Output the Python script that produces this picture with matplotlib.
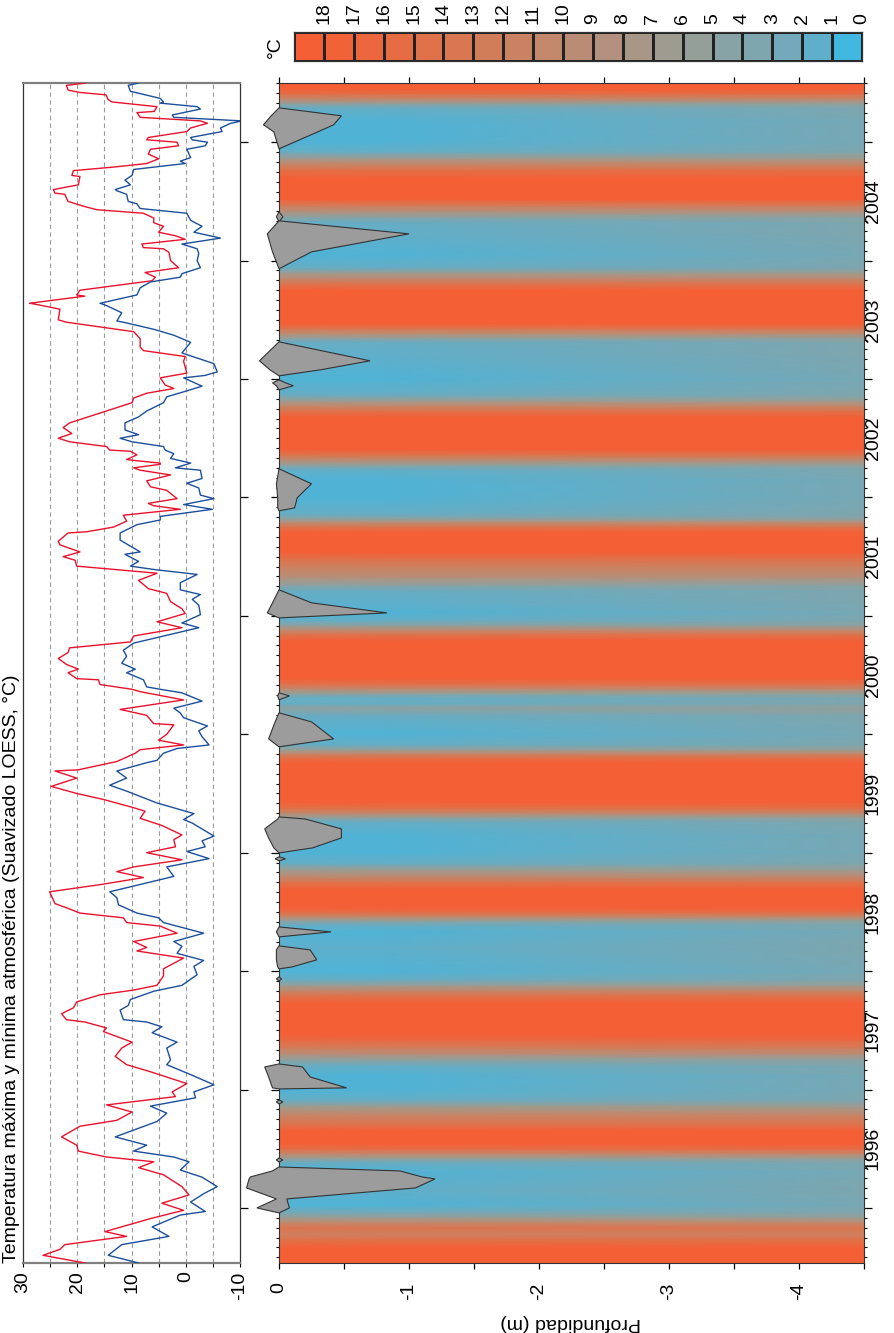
import numpy as np
import matplotlib
matplotlib.use("Agg")
import matplotlib.pyplot as plt
from matplotlib.colors import ListedColormap, BoundaryNorm, LinearSegmentedColormap
import matplotlib.transforms as mtransforms

plt.rcParams['font.family'] = ['Liberation Sans', 'DejaVu Sans']
plt.rcParams['font.size'] = 14
plt.rcParams['axes.unicode_minus'] = False

# ---------------- data ----------------
T_START, T_END = 1995.535, 2005.50
years = list(range(1996, 2006))
year_labels = list(range(1996, 2005))

# Smoothed max temperature (decimal year, degC)
tmax_t = [2005.50, 2005.48, 2005.44, 2005.42, 2005.40, 2005.36, 2005.34, 2005.30, 2005.26, 2005.25,
          2005.21, 2005.18, 2005.16, 2005.12, 2005.09, 2005.04, 2005.02, 2005.00, 2004.97, 2004.94,
          2004.90, 2004.86, 2004.82, 2004.79, 2004.76, 2004.72, 2004.71, 2004.64, 2004.60, 2004.57,
          2004.56, 2004.50, 2004.46, 2004.43, 2004.40, 2004.36, 2004.32, 2004.29, 2004.24, 2004.21,
          2004.18, 2004.14, 2004.11, 2004.10, 2004.07, 2004.00, 2003.94, 2003.90, 2003.86, 2003.83,
          2003.75, 2003.71, 2003.70, 2003.64, 2003.63, 2003.59, 2003.50, 2003.48, 2003.44, 2003.40,
          2003.34, 2003.27, 2003.24, 2003.19, 2003.15, 2003.05, 2003.01, 2002.95, 2002.92, 2002.88,
          2002.84, 2002.80, 2002.73, 2002.63, 2002.59, 2002.54, 2002.50, 2002.47, 2002.43, 2002.40,
          2002.39, 2002.36, 2002.32, 2002.31, 2002.29, 2002.28, 2002.25, 2002.23, 2002.19, 2002.14,
          2002.09, 2002.06, 2001.99, 2001.95, 2001.93, 2001.90, 2001.85, 2001.80, 2001.75, 2001.71,
          2001.70, 2001.63, 2001.60, 2001.54, 2001.50, 2001.47, 2001.42, 2001.36, 2001.30, 2001.23,
          2001.19, 2001.12, 2001.06, 2001.02, 2000.95, 2000.90, 2000.83, 2000.78, 2000.73, 2000.69,
          2000.64, 2000.59, 2000.55, 2000.52, 2000.47, 2000.46, 2000.42, 2000.38, 2000.36, 2000.29,
          2000.21, 2000.16, 2000.09, 2000.08, 2000.00, 1999.95, 1999.91, 1999.87, 1999.84, 1999.77,
          1999.70, 1999.69, 1999.63, 1999.56, 1999.50, 1999.45, 1999.38, 1999.35, 1999.29, 1999.23,
          1999.15, 1999.11, 1999.05, 1999.00, 1998.94, 1998.88, 1998.84, 1998.79, 1998.73, 1998.67,
          1998.57, 1998.53, 1998.49, 1998.45, 1998.41, 1998.38, 1998.32, 1998.25, 1998.20, 1998.17,
          1998.11, 1998.02, 1997.96, 1997.88, 1997.84, 1997.80, 1997.74, 1997.69, 1997.64, 1997.59,
          1997.57, 1997.52, 1997.49, 1997.40, 1997.35, 1997.28, 1997.21, 1997.15, 1997.05, 1996.98,
          1996.94, 1996.87, 1996.81, 1996.74, 1996.69, 1996.60, 1996.53, 1996.48, 1996.43, 1996.39,
          1996.34, 1996.28, 1996.18, 1996.11, 1996.04, 1995.98, 1995.91, 1995.80, 1995.76, 1995.69,
          1995.65, 1995.60, 1995.535]
tmax_v = [18.4, 22.0, 21.7, 19.5, 14.7, 14.3, 13.6, 5.3, 5.8, 9.0,
          8.4, -2.7, -4.0, -0.9, -0.2, 6.9, 7.2, 1.6, 1.3, 6.5,
          6.9, 5.0, 7.2, 13.3, 20.7, 21.0, 19.5, 19.8, 24.4, 24.1,
          22.3, 21.7, 18.9, 16.4, 7.8, 5.9, 5.9, 4.1, 5.0, 1.9,
          0.1, 8.1, 7.8, 4.1, 3.1, 2.8, 1.3, 7.5, 5.6, 6.2,
          19.5, 20.1, 18.6, 28.8, 27.5, 23.2, 23.5, 22.0, 15.8, 9.6,
          8.4, 8.4, 7.8, 0.1, 0.4, -0.2, 4.7, 3.8, 2.2, 7.2,
          9.6, 9.9, 14.6, 21.4, 22.6, 21.0, 23.5, 21.4, 14.6, 14.0,
          10.2, 9.0, 10.9, 9.0, 4.7, 4.7, 9.6, 8.4, 2.8, 7.2,
          6.5, 3.5, 1.6, 6.9, 5.9, 1.0, 11.5, 10.9, 13.3, 18.3,
          21.7, 23.5, 23.2, 19.5, 22.6, 20.4, 20.1, 5.3, 8.7, 6.9,
          3.5, 2.8, 0.7, 0.1, 5.3, 0.7, 9.6, 10.2, 21.4, 21.7,
          23.5, 22.0, 19.8, 21.7, 20.1, 16.1, 15.8, 9.9, 8.4, 0.4,
          12.1, 7.2, 5.9, 2.2, 3.5, 5.0, 0.4, 8.4, 9.3, 12.7,
          19.8, 24.1, 20.1, 24.8, 20.1, 15.2, 9.6, 7.5, 8.4, 4.4,
          0.7, 2.2, 1.9, 7.2, 0.7, 9.6, 12.7, 7.8, 15.8, 25.1,
          24.1, 21.7, 19.5, 11.5, 10.9, 4.7, 1.6, 9.6, 7.2, 9.0,
          0.4, 4.1, 4.1, 5.3, 9.6, 15.8, 20.1, 20.7, 22.9, 22.0,
          18.6, 14.6, 15.2, 9.9, 11.8, 13.0, 10.9, 6.5, -0.2, 2.5,
          1.9, 14.6, 9.9, 12.7, 19.5, 22.9, 20.1, 19.8, 14.6, 5.9,
          8.7, 4.1, 0.7, -0.6, 4.4, 0.4, 6.5, 14.9, 10.9, 22.3,
          23.2, 26.3, 18.6]

# Smoothed min temperature (decimal year, degC)
tmin_t = [2005.50, 2005.48, 2005.43, 2005.37, 2005.34, 2005.33, 2005.30, 2005.28, 2005.23, 2005.21,
          2005.18, 2005.16, 2005.12, 2005.09, 2005.04, 2005.02, 2005.00, 2004.97, 2004.94, 2004.87,
          2004.84, 2004.82, 2004.77, 2004.72, 2004.68, 2004.64, 2004.60, 2004.59, 2004.56, 2004.50,
          2004.48, 2004.44, 2004.40, 2004.34, 2004.29, 2004.24, 2004.19, 2004.14, 2004.10, 2004.06,
          2004.00, 2003.94, 2003.89, 2003.86, 2003.82, 2003.77, 2003.71, 2003.64, 2003.62, 2003.56,
          2003.49, 2003.48, 2003.42, 2003.37, 2003.31, 2003.22, 2003.13, 2003.06, 2003.03, 2003.01,
          2002.94, 2002.90, 2002.85, 2002.80, 2002.73, 2002.68, 2002.63, 2002.57, 2002.53, 2002.50,
          2002.47, 2002.43, 2002.40, 2002.37, 2002.33, 2002.29, 2002.25, 2002.23, 2002.16, 2002.12,
          2002.08, 2002.02, 2001.99, 2001.94, 2001.90, 2001.84, 2001.81, 2001.77, 2001.70, 2001.64,
          2001.60, 2001.54, 2001.52, 2001.46, 2001.42, 2001.39, 2001.35, 2001.28, 2001.22, 2001.18,
          2001.14, 2001.09, 2001.01, 2000.94, 2000.90, 2000.83, 2000.77, 2000.71, 2000.66, 2000.60,
          2000.55, 2000.52, 2000.46, 2000.40, 2000.38, 2000.35, 2000.28, 2000.22, 2000.18, 2000.14,
          2000.07, 2000.03, 1999.98, 1999.91, 1999.88, 1999.84, 1999.78, 1999.76, 1999.69, 1999.63,
          1999.57, 1999.52, 1999.42, 1999.33, 1999.28, 1999.25, 1999.14, 1999.10, 1999.05, 1999.01,
          1998.95, 1998.88, 1998.80, 1998.67, 1998.62, 1998.56, 1998.49, 1998.45, 1998.41, 1998.32,
          1998.25, 1998.21, 1998.15, 1998.09, 1998.04, 1997.97, 1997.88, 1997.83, 1997.76, 1997.71,
          1997.67, 1997.59, 1997.57, 1997.53, 1997.48, 1997.40, 1997.35, 1997.25, 1997.21, 1997.12,
          1997.04, 1996.98, 1996.93, 1996.86, 1996.80, 1996.73, 1996.60, 1996.53, 1996.48, 1996.43,
          1996.39, 1996.32, 1996.26, 1996.18, 1996.12, 1996.05, 1995.97, 1995.94, 1995.84, 1995.76,
          1995.69, 1995.60, 1995.535]
tmin_v = [8.7, 10.6, 10.2, 4.7, 4.1, 4.7, -2.1, -2.7, 2.5, 2.2,
          -10.4, -8.3, -6.4, -6.7, -0.9, -1.2, -4.0, -3.6, -0.2, -0.9,
          1.0, 0.1, 9.6, 9.9, 11.2, 10.2, 13.0, 12.7, 10.9, 10.6,
          9.0, 8.4, -0.2, -0.9, -3.0, -1.5, -6.4, 0.7, -2.1, -2.4,
          -2.1, -2.7, 0.7, 1.0, 6.5, 8.4, 9.0, 15.8, 14.6, 11.8,
          12.7, 11.5, 5.9, 2.2, -0.9, 0.7, -5.2, -5.8, -3.5, 0.4,
          -3.0, -0.2, 3.5, 4.1, 7.2, 8.7, 11.2, 11.2, 8.7, 12.1,
          9.9, 4.1, 3.8, 2.2, 2.8, -0.9, 1.9, -2.7, -3.0, -0.2,
          -2.4, -2.7, -5.2, 0.4, -4.9, 4.7, 4.7, 9.0, 12.1, 12.1,
          10.6, 8.4, 11.2, 8.7, 10.2, 5.6, -2.1, 1.0, 1.0, -2.7,
          -1.2, -2.4, -2.7, 0.7, -2.4, 4.1, 9.6, 11.5, 10.9, 11.8,
          9.3, 10.9, 7.8, 7.2, 4.7, 0.7, -3.0, 2.2, 1.0, 0.4,
          -4.0, -2.4, -3.0, -4.3, 1.6, 4.1, 5.3, 7.2, 12.7, 10.9,
          14.0, 10.9, 5.3, -1.5, 0.4, -1.2, -5.2, -3.0, -3.6, -0.2,
          -4.3, 3.5, 2.2, 14.0, 12.7, 12.4, 9.0, 5.0, 4.1, -3.3,
          2.2, 0.7, 1.6, -3.3, -1.5, -2.1, 0.7, 5.9, 10.2, 10.6,
          12.1, 11.5, 7.2, 4.4, 6.2, 1.6, 3.5, 2.8, 3.5, -1.2,
          -5.2, -1.5, -1.8, 6.5, 3.5, 5.3, 13.0, 7.2, 9.6, 2.2,
          -0.6, 1.0, -3.0, -5.8, -3.3, -0.9, -3.6, 1.0, 6.2, 3.1,
          11.8, 14.3, 8.7]

# Subsurface temperature field (decimal year; degC near surface and at depth)
heat_depths = [0.0, -0.8, -4.5]
heat_t = [1995.535, 1995.66, 1995.72, 1995.78, 1995.83, 1995.88, 1995.92, 1995.96,
          1996.02, 1996.15, 1996.30, 1996.38,
          1996.42, 1996.46, 1996.50, 1996.54, 1996.65, 1996.71, 1996.78, 1996.85, 1996.91,
          1997.00, 1997.12, 1997.20,
          1997.25, 1997.30, 1997.36, 1997.42, 1997.47, 1997.72, 1997.78, 1997.83, 1997.88, 1997.93,
          1998.00, 1998.20, 1998.33, 1998.39,
          1998.43, 1998.47, 1998.51, 1998.55, 1998.69, 1998.75, 1998.81, 1998.86, 1998.91,
          1999.00, 1999.15, 1999.26,
          1999.30, 1999.34, 1999.38, 1999.43, 1999.75, 1999.80, 1999.84, 1999.87, 1999.91,
          2000.00, 2000.15, 2000.22, 2000.26, 2000.31,
          2000.35, 2000.39, 2000.43, 2000.47, 2000.79, 2000.84, 2000.88, 2000.92, 2000.96,
          2001.02, 2001.12, 2001.21,
          2001.26, 2001.33, 2001.42, 2001.49, 2001.54, 2001.70, 2001.75, 2001.79, 2001.82, 2001.86,
          2002.00, 2002.15, 2002.24,
          2002.28, 2002.32, 2002.36, 2002.41, 2002.68, 2002.73, 2002.78, 2002.82, 2002.87,
          2003.00, 2003.18, 2003.31,
          2003.35, 2003.39, 2003.43, 2003.47, 2003.75, 2003.80, 2003.85, 2003.90, 2003.94,
          2004.05, 2004.20, 2004.32,
          2004.37, 2004.42, 2004.47, 2004.52, 2004.70, 2004.76, 2004.81, 2004.86, 2004.92,
          2005.00, 2005.18, 2005.29,
          2005.33, 2005.37, 2005.41, 2005.45, 2005.50]
heat_surface = [19, 18.5, 15, 12, 14, 10, 6, 3,
                1, 1.5, 1, 2,
                6, 11, 15, 18.5, 18.5, 14, 11, 7, 2,
                1, 1, 2,
                5, 9, 13, 16, 18.5, 18.5, 15, 11, 6, 2,
                1, 1.5, 1, 2,
                6, 12, 16, 18.5, 18.5, 14, 9, 6, 2,
                1, 1, 2,
                6, 11, 15, 18.5, 18.5, 15, 10, 6, 2,
                1, 2, 5, 2, 2,
                6, 11, 15, 18.5, 18.5, 14, 10, 5, 2,
                1, 1.5, 2,
                5, 9, 12, 15, 18.5, 18.5, 14, 9, 5, 2,
                1, 1, 2,
                6, 10, 14, 18.5, 18.5, 14, 10, 6, 2,
                1, 1.5, 2,
                6, 10, 14, 18.5, 18.5, 14, 10, 6, 2,
                1, 1.5, 2,
                5, 9, 13, 18.5, 18.5, 15, 11, 7, 2,
                1, 1, 2,
                6, 11, 15, 18.5, 19]
heat_deep = [19, 18.5, 15, 12, 14, 10, 6, 4,
             3, 3.5, 3, 3.5,
             6, 11, 15, 18.5, 18.5, 14, 11, 7, 3.5,
             3, 3, 3.5,
             5, 9, 13, 16, 18.5, 18.5, 15, 11, 6, 3.5,
             3, 3.5, 3, 3.5,
             6, 12, 16, 18.5, 18.5, 14, 9, 6, 3.5,
             3, 3, 3.5,
             6, 11, 15, 18.5, 18.5, 15, 10, 6, 3.5,
             3, 3.5, 5.5, 3.5, 3.5,
             6, 11, 15, 18.5, 18.5, 14, 10, 5, 3.5,
             3, 3.5, 3.5,
             5, 9, 12, 15, 18.5, 18.5, 14, 9, 5, 3.5,
             3, 3, 3.5,
             6, 10, 14, 18.5, 18.5, 14, 10, 6, 3.5,
             3, 3.5, 3.5,
             6, 10, 14, 18.5, 18.5, 14, 10, 6, 3.5,
             3, 3.5, 3.5,
             5, 9, 13, 18.5, 18.5, 15, 11, 7, 3.5,
             3, 3, 3.5,
             6, 11, 15, 18.5, 19]

# Snow height (positive, m) and frost depth (negative, m) episodes
ep_times = [
    [2005.290, 2005.223, 2005.147, 2005.088, 2004.944],
    [2004.412, 2004.370, 2004.328],
    [2004.336, 2004.226, 2004.074, 2003.931],
    [2003.314, 2003.154, 2003.078, 2003.027],
    [2002.993, 2002.968, 2002.943, 2002.909],
    [2002.242, 2002.115, 2001.997, 2001.912, 2001.887],
    [2001.220, 2001.110, 2001.025, 2000.983],
    [2000.350, 2000.324, 2000.291],
    [2000.181, 2000.105, 1999.961, 1999.894],
    [1999.302, 1999.285, 1999.201, 1999.125, 1999.041, 1998.998],
    [1998.965, 1998.948, 1998.931],
    [1998.373, 1998.331, 1998.289],
    [1998.213, 1998.179, 1998.095, 1998.035, 1998.019],
    [1997.951, 1997.934, 1997.917],
    [1997.216, 1997.191, 1997.106, 1997.014, 1997.005],
    [1996.912, 1996.895, 1996.878],
    [1996.422, 1996.405, 1996.388],
    [1996.346, 1996.3125, 1996.262, 1996.245, 1996.169, 1996.076, 1996.0, 1995.958],
]
ep_snow = [
    [0, 0.06, 0.12, 0.04, 0],
    [0, 0.02, 0],
    [0, 0.09, 0.05, 0],
    [0, 0.15, 0.07, 0],
    [0, 0.05, 0.02, 0],
    [0, 0.02, 0.01, 0.01, 0],
    [0, 0.05, 0.09, 0],
    [0, 0.01, 0],
    [0, 0.03, 0.08, 0],
    [0, 0.01, 0.11, 0.08, 0.04, 0],
    [0, 0.03, 0],
    [0, 0.02, 0],
    [0, 0.02, 0.02, 0.01, 0],
    [0, 0.02, 0],
    [0, 0.11, 0.08, 0.05, 0],
    [0, 0.02, 0],
    [0, 0.02, 0],
    [0, 0.05, 0.22, 0.23, 0.25, 0.02, 0.17, 0],
]
ep_frost = [
    [0, -0.48, -0.42, -0.30, 0],
    [0, -0.03, 0],
    [0, -1.0, -0.25, 0],
    [0, -0.70, -0.32, 0],
    [0, -0.05, -0.11, 0],
    [0, -0.25, -0.14, -0.12, 0],
    [0, -0.25, -0.83, 0],
    [0, -0.08, 0],
    [0, -0.25, -0.42, 0],
    [0, -0.20, -0.48, -0.48, -0.26, 0],
    [0, -0.05, 0],
    [0, -0.40, 0],
    [0, -0.24, -0.29, -0.10, 0],
    [0, -0.02, 0],
    [0, -0.18, -0.24, -0.52, 0],
    [0, -0.03, 0],
    [0, -0.03, 0],
    [0, -0.93, -1.10, -1.20, -1.05, -0.06, -0.08, 0],
]

# Colour scale
cb_levels = list(range(0, 20))
cb_ticks = list(range(0, 19))
cb_colors = ['#42B7E0', '#5FAFCB', '#72AABB', '#7EA6AF', '#88A3A6', '#949F9A', '#9E9C90',
             '#A89687', '#B3917E', '#BB8C75', '#C3876B', '#CA8262', '#D27D5A', '#D97752',
             '#E0724B', '#E66C44', '#EC673E', '#F26239', '#F55F36']

title = 'Temperatura máxima y mínima atmosférica (Suavizado LOESS, °C)'

# ---------------- figure ----------------
W, H = 894, 1333
fig = plt.figure(figsize=(W / 100, H / 100), dpi=100)

def fx(px):
    return px / W

def fy(py):
    return 1 - py / H

# --- temperature panel ---
ax_t = fig.add_axes([fx(23), fy(1263), fx(240) - fx(23), fy(83) - fy(1263)])
for g in [25, 20, 15, 10, 5, 0, -5]:
    ax_t.axvline(g, color='#9a9a9a', lw=0.8, ls=(0, (4, 3)), zorder=1)
o1 = np.argsort(tmax_t)
o2 = np.argsort(tmin_t)
ax_t.plot(np.array(tmax_v)[o1], np.array(tmax_t)[o1], color='#E8122C', lw=1.0, zorder=3)
ax_t.plot(np.array(tmin_v)[o2], np.array(tmin_t)[o2], color='#1B4F9B', lw=1.0, zorder=3)
ax_t.set_xlim(30, -10)
ax_t.set_ylim(T_START, T_END)
ax_t.set_xticks([30, 20, 10, 0, -10])
ax_t.set_xticklabels(['30', '20', '10', '0', '-10'])
ax_t.set_xticks([25, 15, 5, -5], minor=True)
ax_t.tick_params(axis='x', which='both', direction='out', length=3, width=0.8,
                 labelrotation=90, pad=3, labelsize=14)
ax_t.yaxis.tick_right()
ax_t.set_yticks(years)
ax_t.set_yticklabels([])
ax_t.tick_params(axis='y', which='major', direction='out', length=6, width=0.9)
for side in ['left', 'right']:
    ax_t.spines[side].set_color('#333333')
    ax_t.spines[side].set_linewidth(0.9)
for side in ['top', 'bottom']:
    ax_t.spines[side].set_color('#808080')
    ax_t.spines[side].set_linewidth(1.6)

# --- subsurface heat map ---
ax_h = fig.add_axes([fx(279), fy(1263), fx(864) - fx(279), fy(83) - fy(1263)])
pos = [0.0] + [(i + 0.5) / 19 for i in range(19)] + [1.0]
cols = [cb_colors[0]] + cb_colors + [cb_colors[-1]]
cmap_c = LinearSegmentedColormap.from_list('tcont', list(zip(pos, cols)))
Xg, Yg = np.meshgrid(heat_depths, heat_t)
Cg = np.column_stack([heat_surface, heat_surface, heat_deep])
ax_h.pcolormesh(Xg, Yg, Cg, shading='gouraud', cmap=cmap_c, vmin=0, vmax=19, zorder=1)

for tt, sn, fr in zip(ep_times, ep_snow, ep_frost):
    xs = list(sn) + list(fr[::-1])
    ys = list(tt) + list(tt[::-1])
    ax_h.fill(xs, ys, facecolor='#9C9C9C', edgecolor='#333333', lw=0.8,
              clip_on=False, zorder=4)

ax_h.set_xlim(0, -4.5)
ax_h.set_ylim(T_START, T_END)
ax_h.set_xticks([0, -1, -2, -3, -4])
ax_h.set_xticklabels(['0', '-1', '-2', '-3', '-4'])
ax_h.set_xticks([-0.5, -1.5, -2.5, -3.5, -4.5], minor=True)
ax_h.tick_params(axis='x', which='both', direction='out', length=4, width=0.9,
                 top=True, bottom=True, labelrotation=90, pad=10, labelsize=14)
ax_h.set_yticks(years)
ax_h.set_yticklabels([])
months = [y + m / 12 for y in range(1995, 2006) for m in range(1, 12)
          if T_START <= y + m / 12 <= T_END]
ax_h.set_yticks(months, minor=True)
ax_h.tick_params(axis='y', which='major', direction='out', length=6, width=0.9,
                 left=True, right=True)
ax_h.tick_params(axis='y', which='minor', direction='out', length=2.5, width=0.8,
                 left=True, right=True)
for side in ax_h.spines:
    ax_h.spines[side].set_color('#333333')
    ax_h.spines[side].set_linewidth(0.8)
trans = mtransforms.blended_transform_factory(ax_h.transAxes, ax_h.transData)
for yr in year_labels:
    ax_h.text(1 + 9 / 585, yr + 0.5, str(yr), transform=trans, rotation=90,
              ha='center', va='center', fontsize=14)

# --- colour bar ---
cax = fig.add_axes([fx(294), fy(61), fx(862) - fx(294), fy(32) - fy(61)])
cmap_d = ListedColormap(cb_colors)
norm_d = BoundaryNorm(cb_levels, cmap_d.N)
vals = np.array([[v + 0.5 for v in cb_levels[:-1]]])
cax.pcolormesh(cb_levels, [0, 1], vals, cmap=cmap_d, norm=norm_d,
               edgecolors='#222222', linewidth=0.9)
cax.set_xlim(19, 0)
cax.set_ylim(0, 1)
cax.xaxis.tick_top()
cax.set_xticks(cb_ticks)
cax.set_xticklabels([str(v) for v in cb_ticks])
cax.tick_params(axis='x', length=0, pad=6, labelrotation=90, labelsize=14)
cax.set_yticks([])
for side in cax.spines:
    cax.spines[side].set_color('#333333')
    cax.spines[side].set_linewidth(0.9)

# --- texts ---
fig.text(fx(12), fy(1263), title, rotation=90, ha='center', va='bottom', fontsize=14)
fig.text(fx(275), fy(47), '°C', rotation=90, ha='center', va='center', fontsize=14)
fig.text(fx(571), fy(1322), 'Profundidad (m)', rotation=180, ha='center', va='center',
         fontsize=14)

fig.savefig('out.png', dpi=100)
